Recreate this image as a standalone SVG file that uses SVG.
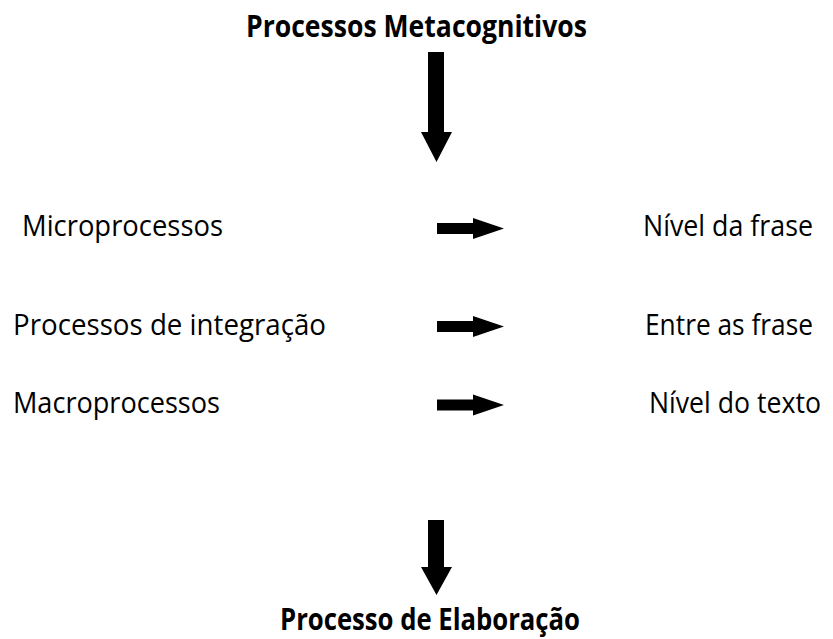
<svg xmlns="http://www.w3.org/2000/svg" width="833" height="639" viewBox="0 0 833 639">
  <style>
    .t { font-family: "Open Sans", "Noto Sans", "Liberation Sans", sans-serif; font-size: 29.5px; fill: #000; }
    .b { font-weight: bold; }
    .r { text-anchor: end; }
    .arr { fill: #000; stroke: none; }
  </style>
  <rect width="833" height="639" fill="#fff"/>
  <g id="node-metacognitivos">
    <text class="t b" x="246" y="37" textLength="341" lengthAdjust="spacingAndGlyphs">Processos Metacognitivos</text>
  </g>
  <g id="node-microprocessos">
    <text class="t" x="22" y="236" textLength="201" lengthAdjust="spacingAndGlyphs">Microprocessos</text>
  </g>
  <g id="node-integracao">
    <text class="t" x="13" y="335" textLength="313" lengthAdjust="spacingAndGlyphs">Processos de integração</text>
  </g>
  <g id="node-macroprocessos">
    <text class="t" x="13" y="413" textLength="207" lengthAdjust="spacingAndGlyphs">Macroprocessos</text>
  </g>
  <g id="node-nivel-frase">
    <text class="t r" x="813" y="236" textLength="170" lengthAdjust="spacingAndGlyphs">Nível da frase</text>
  </g>
  <g id="node-entre-frase">
    <text class="t r" x="813" y="335" textLength="168" lengthAdjust="spacingAndGlyphs">Entre as frase</text>
  </g>
  <g id="node-nivel-texto">
    <text class="t r" x="821" y="413" textLength="172" lengthAdjust="spacingAndGlyphs">Nível do texto</text>
  </g>
  <g id="node-elaboracao">
    <text class="t b" x="280" y="630" textLength="300" lengthAdjust="spacingAndGlyphs">Processo de Elaboração</text>
  </g>
  <g id="connectors">
    <polygon class="arr" points="428,52 444,52 444,132 452,132 436.5,162 421,132 428,132"/>
    <polygon class="arr" points="437,223 473,223 473,218 504,228.5 473,239 473,234 437,234"/>
    <polygon class="arr" points="437,321 473,321 473,316 504,326.5 473,337 473,332 437,332"/>
    <polygon class="arr" points="437,399.5 473,399.5 473,394.5 504,405 473,415.5 473,410.5 437,410.5"/>
    <polygon class="arr" points="428,520 444,520 444,567 452,567 436.5,595 421,567 428,567"/>
  </g>
</svg>
